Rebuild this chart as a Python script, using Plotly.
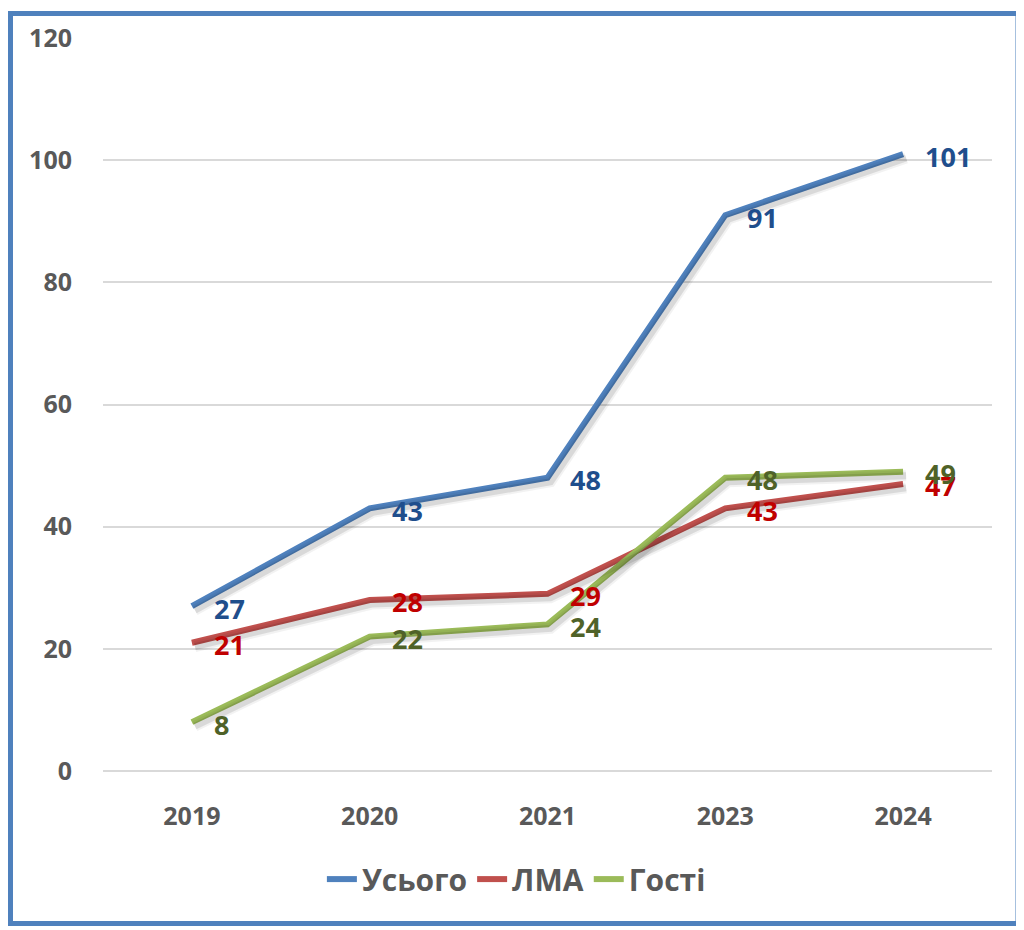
import plotly.graph_objects as go

years = ["2019", "2020", "2021", "2023", "2024"]
total = [27, 43, 48, 91, 101]
lma = [21, 28, 29, 43, 47]
guests = [8, 22, 24, 48, 49]

series = [
    ("Усього", total, "#4F81BD", "#1F4E8C"),
    ("ЛМА", lma, "#C0504D", "#C00000"),
    ("Гості", guests, "#9BBB59", "#4F6228"),
]

FONT = "Open Sans"
# page body has an 8px margin; figure is sized to fit the 1024x930 window
OFF = 8
W, H = 1024 - OFF, 930 - OFF
L, R, T, B = 103 - OFF, 32, 35 - OFF, 159
pw, ph = W - L - R, H - T - B

YMAX = 120
# shadow offsets (pixels) converted into axis units
sdy = 4 / ph * YMAX
sdx = 3 / pw * 5

fig = go.Figure()

# drop shadows drawn on a slightly shifted overlay axis pair
for name, vals, col, tcol in series:
    for w, a in [(11, 0.05), (7, 0.10)]:
        fig.add_trace(go.Scatter(x=years, y=vals, mode="lines",
                                 line=dict(color=f"rgba(0,0,0,{a})", width=w),
                                 showlegend=False, hoverinfo="skip",
                                 xaxis="x2", yaxis="y2"))

for name, vals, col, tcol in series:
    fig.add_trace(go.Scatter(
        x=years, y=vals, name=name, mode="lines",
        line=dict(color=col, width=6),
    ))
    for i, v in enumerate(vals):
        fig.add_annotation(x=i, y=v, xref="x", yref="y", text=str(v), showarrow=False,
                           xanchor="left", yanchor="middle", xshift=20, yshift=-2,
                           font=dict(family=FONT, size=27, color=tcol, weight="bold"))

def fx(px):
    return (px - OFF - L) / pw

def fy(py):
    return (H - B - (py - OFF)) / ph

fig.add_shape(type="rect", xref="paper", yref="paper",
              x0=fx(10.5), x1=fx(1018), y0=fy(10.5), y1=fy(924),
              line=dict(color="#4F81BD", width=5), fillcolor="rgba(0,0,0,0)")

tick_font = dict(family=FONT, size=25, color="#595959", weight="bold")
fig.update_layout(
    width=W, height=H,
    margin=dict(l=L, r=R, t=T, b=B),
    plot_bgcolor="white", paper_bgcolor="white",
    font=dict(family=FONT, color="#595959", size=24),
    xaxis=dict(type="category", showgrid=False, showline=False, ticks="",
               range=[-0.5, 4.5], ticklabelstandoff=28, tickfont=tick_font),
    yaxis=dict(range=[0, YMAX], dtick=20, showgrid=True, gridcolor="#D9D9D9",
               gridwidth=2, zeroline=True, zerolinecolor="#D9D9D9", zerolinewidth=2,
               showline=False, ticks="", ticklabelstandoff=30, tickfont=tick_font),
    xaxis2=dict(type="category", overlaying="x", range=[-0.5 - sdx, 4.5 - sdx],
                visible=False, categoryarray=years),
    yaxis2=dict(overlaying="y", range=[sdy, YMAX + sdy], visible=False),
    legend=dict(orientation="h", x=0.465, xanchor="center", y=-0.112, yanchor="top",
                font=dict(family=FONT, size=30, color="#595959", weight="bold"),
                traceorder="normal"),
    showlegend=True,
)

fig.write_html("out.html")
